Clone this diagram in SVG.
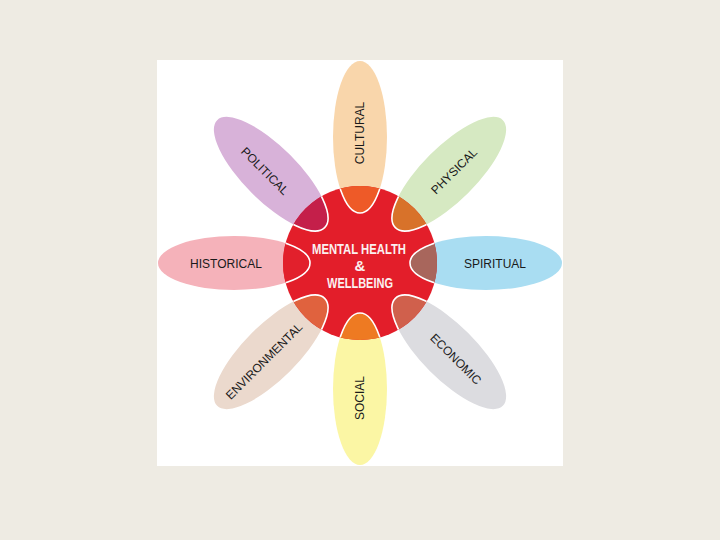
<svg xmlns="http://www.w3.org/2000/svg" width="720" height="540" viewBox="0 0 720 540">
<style>
.lbl{font-family:"Liberation Sans",Arial,sans-serif;font-size:12px;fill:#1a1a1a;text-anchor:middle}
.ctr{font-family:"Liberation Sans",Arial,sans-serif;font-size:15px;font-weight:bold;fill:#FBF0F0;text-anchor:middle}
.ov{stroke:#ffffff;stroke-width:1.6}
</style>
<defs>
<clipPath id="cc"><circle cx="360" cy="263" r="77"/></clipPath>
<ellipse id="pet" cx="486" cy="263" rx="76" ry="27"/>
</defs>
<rect x="0" y="0" width="720" height="540" fill="#EEEBE3"/>
<rect x="157" y="60" width="406" height="406" fill="#ffffff"/>

<g id="spiritual"><use href="#pet" fill="#A9DDF2"/><text class="lbl" x="495" y="268">SPIRITUAL</text></g>
<g id="economic"><use href="#pet" fill="#DCDCE0" transform="rotate(45 360 263)"/><text class="lbl" transform="translate(456 359) rotate(45)" y="4.3">ECONOMIC</text></g>
<g id="social"><use href="#pet" fill="#FBF6A4" transform="rotate(90 360 263)"/><text class="lbl" transform="translate(360 398) rotate(-90)" y="4.3">SOCIAL</text></g>
<g id="environmental"><use href="#pet" fill="#EBD9CD" transform="rotate(135 360 263)"/><text class="lbl" transform="translate(264 361) rotate(-45)" y="4.3">ENVIRONMENTAL</text></g>
<g id="historical"><use href="#pet" fill="#F5B2BA" transform="rotate(180 360 263)"/><text class="lbl" x="226" y="268">HISTORICAL</text></g>
<g id="political"><use href="#pet" fill="#D8B2D9" transform="rotate(225 360 263)"/><text class="lbl" transform="translate(265 171) rotate(45)" y="4.3">POLITICAL</text></g>
<g id="cultural"><use href="#pet" fill="#F9D6AB" transform="rotate(270 360 263)"/><text class="lbl" transform="translate(360 133) rotate(-90)" y="4.3">CULTURAL</text></g>
<g id="physical"><use href="#pet" fill="#D6E9C2" transform="rotate(315 360 263)"/><text class="lbl" transform="translate(454 171) rotate(-45)" y="4.3">PHYSICAL</text></g>

<g id="center">
<circle cx="360" cy="263" r="77" fill="#E31E2A"/>
<g clip-path="url(#cc)">
<use href="#pet" class="ov" fill="#A8665C"/>
<use href="#pet" class="ov" fill="#D0604C" transform="rotate(45 360 263)"/>
<use href="#pet" class="ov" fill="#EE7A22" transform="rotate(90 360 263)"/>
<use href="#pet" class="ov" fill="#E0623E" transform="rotate(135 360 263)"/>
<use href="#pet" class="ov" fill="#E2202C" transform="rotate(180 360 263)"/>
<use href="#pet" class="ov" fill="#C41F4A" transform="rotate(225 360 263)"/>
<use href="#pet" class="ov" fill="#EE5A28" transform="rotate(270 360 263)"/>
<use href="#pet" class="ov" fill="#D8722A" transform="rotate(315 360 263)"/>
</g>
<text class="ctr" x="359" y="254" textLength="94" lengthAdjust="spacingAndGlyphs">MENTAL HEALTH</text>
<text class="ctr" x="360" y="271">&amp;</text>
<text class="ctr" x="360" y="288" textLength="66" lengthAdjust="spacingAndGlyphs">WELLBEING</text>
</g>
</svg>
